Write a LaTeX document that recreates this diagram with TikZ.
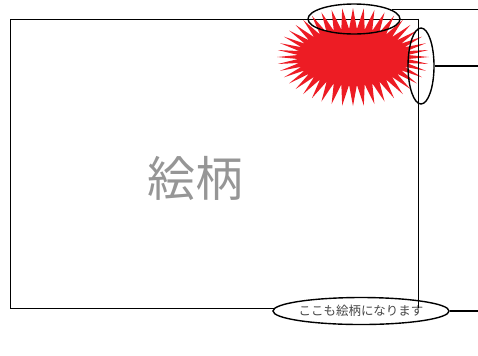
\documentclass[tikz,border=0pt]{standalone}
\usepackage{fontspec}
\newfontfamily\jpfont{Noto Sans CJK JP}
\usepackage{tikz}
\usetikzlibrary{shapes,positioning}
\definecolor{burstred}{RGB}{237, 28, 36}
\definecolor{labelgray}{RGB}{150, 150, 150}
\definecolor{notegray}{RGB}{70, 70, 70}
\tikzstyle{frame} = [rectangle, draw=black, line width=0.8pt, inner sep=0pt, minimum width=408bp, minimum height=289bp]
\tikzstyle{burst} = [starburst, fill=burstred, draw=none, starburst points=44, starburst point height=21bp, random starburst=0, inner sep=0pt, minimum width=152bp, minimum height=98bp]
\tikzstyle{callout} = [ellipse, draw=black, line width=1.4pt, inner sep=0pt]
\tikzstyle{lead} = [draw, line width=1.5pt]

\begin{document}
\begin{tikzpicture}[x=1bp, y=-1bp]
\useasboundingbox (0,0) rectangle (478,355);

% artwork =============================
\node[frame] (art) at (214,163.5) {};
\node[text=labelgray, font=\jpfont\fontsize{48}{48}\selectfont] (title) at (195,178) {絵柄};
\node[burst] (star) at (353,57) {};

% callouts
\node[callout, minimum width=92bp, minimum height=30bp] (top) at (354,19) {};
\node[callout, minimum width=26bp, minimum height=76bp] (side) at (421,66) {};
\node[callout, fill=white, minimum width=172bp, minimum height=27bp, text=notegray, font=\jpfont\fontsize{12.5}{12.5}\selectfont] (note) at (361,311) {ここも絵柄になります};
\path[draw, line width=0.8pt] (art.north east) -- (art.south east);

% leaders
\coordinate (endtop) at (478,10);
\coordinate (endside) at (478,66);
\coordinate (endnote) at (478,311);

\path[lead] (top.14) -- (top.14 -| endtop);
\path[lead] (side.east) -- (side.east -| endside);
\path[lead] (note.east) -- (note.east -| endnote);

\end{tikzpicture}
\end{document}
